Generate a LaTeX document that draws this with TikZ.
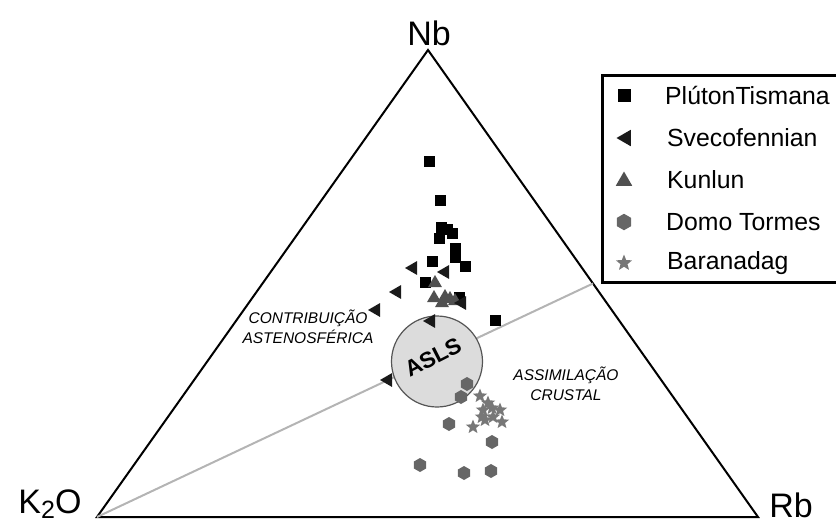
\documentclass[tikz,border=0pt]{standalone}
\usepackage{fontspec}
\setmainfont{Liberation Sans}
\usetikzlibrary{shapes.geometric,calc}
\definecolor{lineGray}{HTML}{B4B4B4}
\definecolor{aslsFill}{HTML}{DCDCDC}
\definecolor{aslsEdge}{HTML}{555555}
\definecolor{sveCol}{HTML}{1A1A1A}
\definecolor{kunCol}{HTML}{505050}
\definecolor{hexCol}{HTML}{666666}
\definecolor{starCol}{HTML}{777777}
\tikzset{
  sqmark/.style={rectangle,fill=black,minimum size=11pt,inner sep=0pt},
  svemark/.style={regular polygon,regular polygon sides=3,shape border rotate=90,fill=sveCol,minimum size=16pt,inner sep=0pt},
  kunmark/.style={regular polygon,regular polygon sides=3,fill=kunCol,minimum size=16pt,inner sep=0pt},
  hexmark/.style={regular polygon,regular polygon sides=6,shape border rotate=90,fill=hexCol,minimum size=14pt,inner sep=0pt},
  starmark/.style={star,star points=5,star point ratio=2.3,fill=starCol,minimum size=15pt,inner sep=0pt},
  vlabel/.style={font=\fontsize{34}{38}\selectfont,inner sep=0pt},
  legtext/.style={font=\fontsize{24.8}{28}\selectfont,anchor=west,inner sep=0pt},
  fieldtext/.style={font=\fontsize{15.5}{19.5}\selectfont\itshape,align=center,inner sep=0pt}
}
\begin{document}
\begin{tikzpicture}[x=1pt,y=-1pt]
\useasboundingbox (0,0) rectangle (836,523);
\clip (0,0) rectangle (836,523);
% vertices
\coordinate (K) at (97,517);
\coordinate (N) at (428,50);
\coordinate (R) at (758,517);
\coordinate (M) at ($(N)!0.5!(R)$);
\draw[line width=2pt,line join=miter] (K) -- (N) -- (R) -- cycle;
\draw[lineGray,line width=2pt] (K) -- (M);
% labels
\node[vlabel] (nb) at (429,33) {Nb};
\node[vlabel] (k2o) at (50,504) {K\raisebox{-0.25ex}{\fontsize{25}{25}\selectfont 2}O};
\node[vlabel] (rb) at (791,505) {Rb};
% ASLS circle
\node[circle,draw=aslsEdge,fill=aslsFill,line width=1.2pt,minimum size=91pt,inner sep=0pt] (asls) at (437,361.5) {};
\node[rotate=27,font=\fontsize{22.5}{24}\selectfont\bfseries,inner sep=0pt] (aslstxt) at (433,357) {ASLS};
% field labels
\node[fieldtext] (contrib) at (308,327) {CONTRIBUIÇÃO\\ASTENOSFÉRICA};
\node[fieldtext] (assim) at (566,384) {ASSIMILAÇÃO\\CRUSTAL};
% data: hexagons
\foreach \p [count=\i] in {(467,384),(461,397),(449,424),(492,442),(420,465),(464,473),(491,471)}
  \node[hexmark] (hx\i) at \p {};
% stars
\foreach \p [count=\i] in {(480,396),(488,403),(483,410),(492,408),(500,410),(482,417),(493,417),(502,422),(473,427),(485,420)}
  \node[starmark] (st\i) at \p {};
% squares
\foreach \p [count=\i] in {(429,161),(440,200),(441,227),(447,229),(452,233),(439,238),(455,248),(455,257),(465,266),(432,261),(425,282),(459,297),(495,320)}
  \node[sqmark] (sq\i) at \p {};
% kunlun
\foreach \p [count=\i] in {(435,283),(434,298),(445,297),(450,299),(455,301),(442,303)}
  \node[kunmark] (ku\i) at \p {};
% svecofennian
\foreach \p [count=\i] in {(413,268),(445,272),(397,292),(376,310),(431,321),(388,380),(462,303)}
  \node[svemark] (sv\i) at \p {};
% legend
\draw[line width=3pt] (602,75) rectangle (842,282);
\node[sqmark,minimum size=13pt] (l1) at (624,95) {};
\node[svemark,minimum size=19pt] (l2) at (626,138) {};
\node[kunmark,minimum size=19pt] (l3) at (624,181) {};
\node[hexmark,minimum size=16.5pt] (l4) at (624,222) {};
\node[starmark,minimum size=17pt] (l5) at (624,263) {};
\node[legtext] (t1) at (665,95) {PlútonTismana};
\node[legtext] (t2) at (667,138) {Svecofennian};
\node[legtext] (t3) at (667,180) {Kunlun};
\node[legtext] (t4) at (666,222) {Domo Tormes};
\node[legtext] (t5) at (667,263) {Baranadag};
\end{tikzpicture}
\end{document}
